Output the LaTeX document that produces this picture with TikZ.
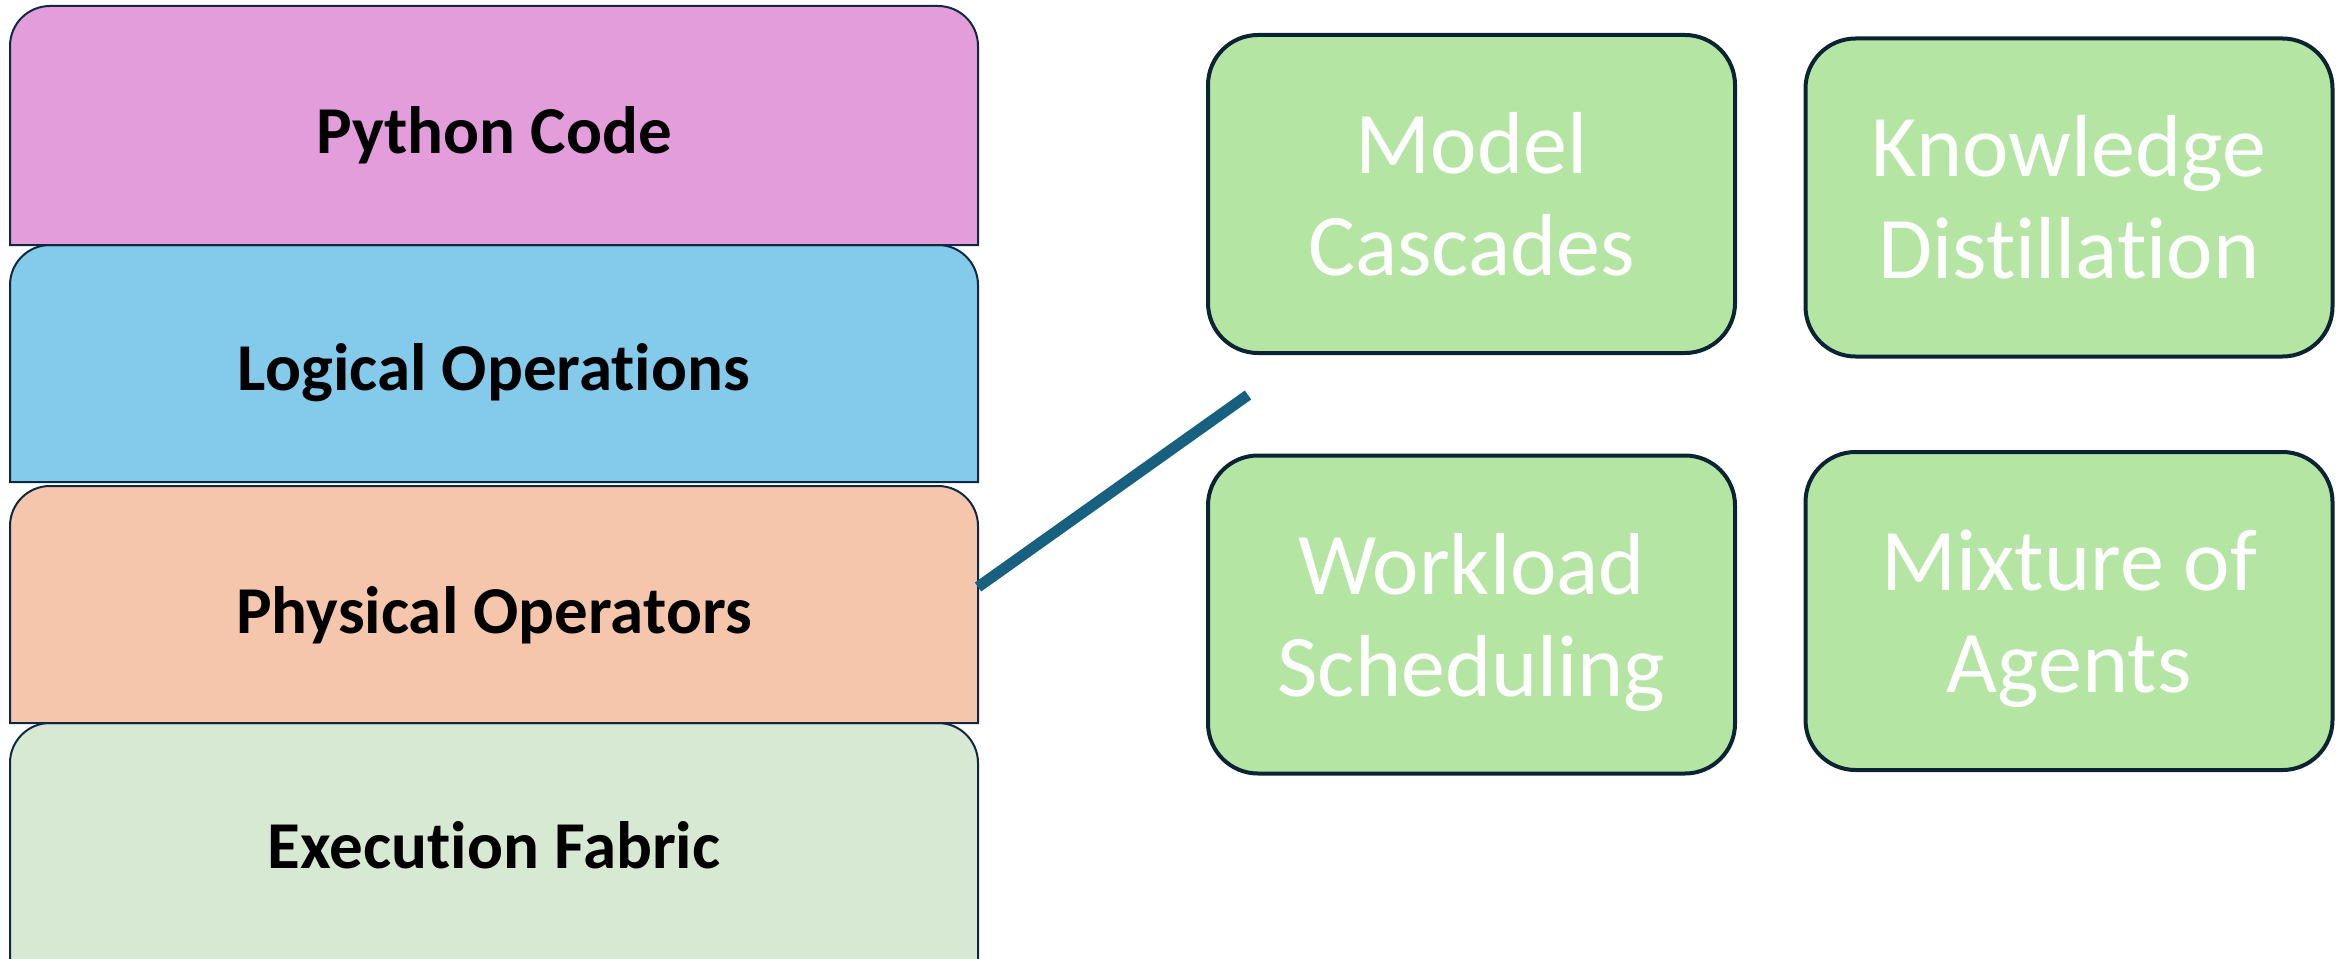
\documentclass[tikz,border=0pt]{standalone}
\usepackage{fontspec}
\setmainfont{Carlito}
\newfontfamily\calfont[Ligatures=NoCommon]{Carlito}
\definecolor{pyfill}{HTML}{E39DDB}
\definecolor{logfill}{HTML}{83CAEB}
\definecolor{physfill}{HTML}{F5C6AC}
\definecolor{execfill}{HTML}{D8E9D3}
\definecolor{gfill}{HTML}{B5E5A3}
\definecolor{navy}{HTML}{0E2841}
\definecolor{gborder}{HTML}{0A2433}
\definecolor{linkblue}{HTML}{17607F}
\tikzset{
  layer/.style={draw=navy, line width=2pt},
  layerslot/.style={inner sep=0pt, outer sep=0pt, minimum width=968pt},
  ltext/.style={font=\calfont\bfseries\fontsize{67}{80}\selectfont, text=black, anchor=base, inner sep=0pt},
  gbox/.style={draw=gborder, fill=gfill, line width=4pt, rounded corners=50pt, minimum width=527pt, minimum height=318pt, inner sep=0pt},
  gtext/.style={font=\calfont\fontsize{88}{102}\selectfont, text=white, anchor=base, inner sep=0pt},
  link/.style={draw=linkblue, line width=11pt}
}
\begin{document}
\begin{tikzpicture}[x=1pt,y=-1pt]
\useasboundingbox (0,0) rectangle (2341,958);
% layer slots
\node[layerslot, minimum height=239pt] (py) at (494,125.5) {};
\node[layerslot, minimum height=237pt] (log) at (494,363.5) {};
\node[layerslot, minimum height=237pt] (phys) at (494,604.5) {};
\node[layerslot, minimum height=239pt] (exec) at (494,842.5) {};
% layer shapes, bottom first
\draw[layer, fill=execfill] (exec.south west) [rounded corners=40pt] -- (exec.north west) -- (exec.north east) [sharp corners] -- (exec.south east) -- cycle;
\draw[layer, fill=physfill] (phys.south west) [rounded corners=40pt] -- (phys.north west) -- (phys.north east) [sharp corners] -- (phys.south east) -- cycle;
\draw[layer, fill=logfill] (log.south west) [rounded corners=40pt] -- (log.north west) -- (log.north east) [sharp corners] -- (log.south east) -- cycle;
\draw[layer, fill=pyfill] (py.south west) [rounded corners=40pt] -- (py.north west) -- (py.north east) [sharp corners] -- (py.south east) -- cycle;
% layer labels
\node[ltext] (py-t) at (494,153) {Python Code};
\node[ltext] (log-t) at (494,390) {Logical Operations};
\node[ltext] (phys-t) at (494,633) {Physical Operators};
\node[ltext] (exec-t) at (494,868) {Execution Fabric};
% green boxes
\node[gbox] (mc) at (1471.5,194) {};
\node[gbox] (kd) at (2069,197.5) {};
\node[gbox] (ws) at (1471.5,614.5) {};
\node[gbox] (ma) at (2069,611) {};
\node[gtext] (mc-t) at (1471.5,173) {\begin{tabular}[t]{@{}c@{}}Model\\Cascades\end{tabular}};
\node[gtext] (kd-t) at (2069,176) {\begin{tabular}[t]{@{}c@{}}Knowledge\\Distillation\end{tabular}};
\node[gtext] (ws-t) at (1471.5,594) {\begin{tabular}[t]{@{}c@{}}Workload\\Scheduling\end{tabular}};
\node[gtext] (ma-t) at (2069,590) {\begin{tabular}[t]{@{}c@{}}Mixture of\\Agents\end{tabular}};
% connector
\coordinate (link-end) at (1248,395);
\draw[link] ([yshift=17.5pt]phys.east) -- (link-end);
\end{tikzpicture}
\end{document}
